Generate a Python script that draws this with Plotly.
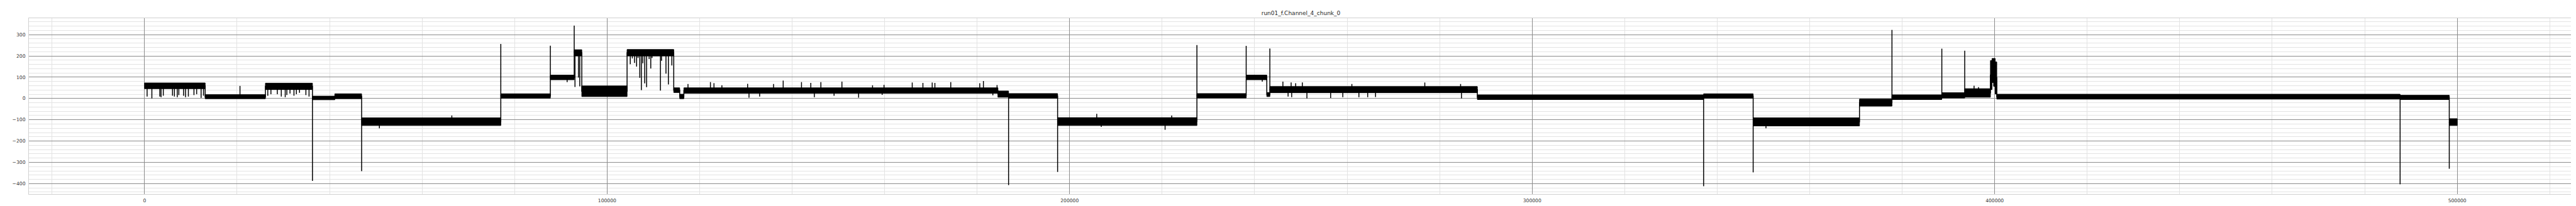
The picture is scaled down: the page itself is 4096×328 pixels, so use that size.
import plotly.graph_objects as go

# ---------------- data ----------------
title_text = "run01_f.Channel_4_chunk_0"

# plateau segments: sample start, sample end, lower and upper edge of the noise band
seg_start = [0, 13100, 26130, 36300, 41130, 46930, 77020, 87730, 92890, 94530,
             104320, 114410, 115700, 116600, 184500, 186800, 197400, 227520, 238170, 242630,
             243290, 288150, 337070, 347780, 370770, 377790, 388570, 393520, 399080, 399420,
             399760, 400110, 400450, 487650, 498280]
seg_end = [13100, 26130, 36300, 41130, 46930, 77020, 87730, 92890, 94530, 104320,
           114410, 115700, 116600, 184500, 186800, 197400, 227520, 238170, 242630, 243290,
           288150, 337070, 347780, 370770, 377790, 388570, 393520, 399080, 399420, 399760,
           400110, 400450, 487650, 498280, 500000]
seg_low = [46, -1, 42, -6, -1, -127, 1, 88, 200, 9,
           200, 28, -1, 24, 6, 1, -127, 2, 88, 9,
           27, -5, 1, -129, -36, -5, 2, 6, 42, 75,
           57, 21, -3, -5, -127]
seg_high = [73, 18, 72, 11, 22, -91, 22, 110, 229, 59,
            230, 50, 20, 50, 35, 23, -90, 23, 110, 28,
            56, 17, 22, -91, -3, 17, 27, 46, 178, 188,
            188, 172, 20, 15, -95]

# isolated spikes / dips: sample position and extreme value
spike_x = [550, 1580, 3300, 3570, 4050, 6040, 6450, 7070, 7410, 8440,
           8860, 9470, 10680, 11260, 12220, 12740, 20630,
           26640, 27320, 28700, 29560, 30410, 30760, 31440, 32300, 32820, 33500, 34880, 35560,
           36300, 46930, 50770, 66430, 77020, 87730, 91360, 92890,
           93060, 93810, 94090,
           105010, 105450, 105930, 106380, 106690, 107070, 107410, 107720, 108130, 108540,
           108820, 109090, 109440, 109710, 111530, 111770, 112730, 113250, 114000,
           117490, 122340, 123110, 124820, 130380, 135990, 138070, 142030, 144040, 146220,
           150770, 157390, 159870, 165970, 168280, 170290, 170870, 174300, 180570, 181360, 184310,
           130680, 132980, 144810, 149070, 154380, 159470, 183400,
           186800, 197400, 205860, 222070, 206840, 220640, 227520, 238170, 241650, 243290,
           246110, 247890, 248870, 250310, 261020, 276790, 284530,
           247230, 248010, 251300, 256430, 259060, 262540, 264440, 266140, 284720,
           337070, 347780, 350550, 377790, 388570, 393520, 395540, 396500,
           487650, 498280]
spike_y = [9, 0, 9, 6, 13, 13, 9, 6, 16, 13,
           6, 9, 16, 20, 3, 13, 59,
           13, 20, 20, 9, 6, 16, 23, 13, 20, 27, 16, 9,
           -387, -341, -140, -80, 256, 248, 77, 342,
           54, 98, 57,
           161, 188, 167, 150, 190, 97, 39, 165, 71, 53,
           200, 185, 141, 190, 37, 177, 117, 66, 155,
           68, 77, 72, 62, 69, 68, 84, 77, 73, 77,
           79, 62, 64, 75, 73, 75, 73, 77, 72, 82, 63,
           4, 9, 6, 13, 4, 17, 15,
           -407, -345, -72, -80, -133, -147, 251, 247, 79, 235,
           79, 75, 72, 75, 68, 75, 68,
           9, 6, 0, 2, 6, 6, 6, 7, 0,
           -412, -347, -140, 322, 234, 224, 60, 53,
           -403, -330]

# ---------------- build traces ----------------
seg_mid = [(lo + hi) / 2 for lo, hi in zip(seg_low, seg_high)]


def mid_at(x):
    for s, e, m in zip(seg_start, seg_end, seg_mid):
        if s <= x < e:
            return m
    return seg_mid[-1]


band_x, band_y = [], []
for s, e, lo, hi in zip(seg_start, seg_end, seg_low, seg_high):
    band_x += [s, e, e, s, s, None]
    band_y += [lo, lo, hi, hi, lo, None]

sp_x, sp_y = [], []
for x, y in zip(spike_x, spike_y):
    sp_x += [x, x, None]
    sp_y += [mid_at(x), y, None]

fig = go.Figure()
fig.add_trace(go.Scatter(x=band_x, y=band_y, mode="lines", fill="toself",
                         fillcolor="black", line=dict(color="black", width=1.0),
                         hoverinfo="skip"))
fig.add_trace(go.Scatter(x=seg_start + [seg_end[-1]], y=seg_mid + [seg_mid[-1]],
                         mode="lines", line=dict(color="black", width=1.5, shape="hv"),
                         hoverinfo="skip"))
fig.add_trace(go.Scatter(x=sp_x, y=sp_y, mode="lines",
                         line=dict(color="black", width=1.5), hoverinfo="skip"))

font_family = "DejaVu Sans"
fig.update_layout(
    width=4096, height=328,
    margin=dict(l=34, r=13, t=21, b=22),
    paper_bgcolor="white", plot_bgcolor="white",
    showlegend=False,
    font=dict(family=font_family, size=7.6, color="#333333"),
    title=dict(text=title_text, x=0.5, xanchor="center", xref="paper",
               y=1 - 13 / 328, yref="container", yanchor="middle",
               font=dict(family=font_family, size=9, color="#262626")),
)
fig.update_xaxes(
    range=[-25000, 525000], tick0=0, dtick=100000, tickformat="d",
    showgrid=True, gridcolor="#8c8c8c", gridwidth=0.8, zeroline=False,
    minor=dict(dtick=20000, tick0=0, showgrid=True, gridcolor="#e3e3e3", gridwidth=0.8),
    showline=True, mirror=True, linecolor="#d0d0d0", linewidth=1,
    ticks="outside", ticklen=3, tickcolor="rgba(0,0,0,0)",
)
fig.update_yaxes(
    range=[-449, 377], tick0=0, dtick=100,
    showgrid=True, gridcolor="#8c8c8c", gridwidth=0.8, zeroline=False,
    minor=dict(dtick=20, tick0=0, showgrid=True, gridcolor="#e3e3e3", gridwidth=0.8),
    showline=True, mirror=True, linecolor="#d0d0d0", linewidth=1,
    ticks="outside", ticklen=3, tickcolor="rgba(0,0,0,0)",
)

fig.write_html("out.html")
